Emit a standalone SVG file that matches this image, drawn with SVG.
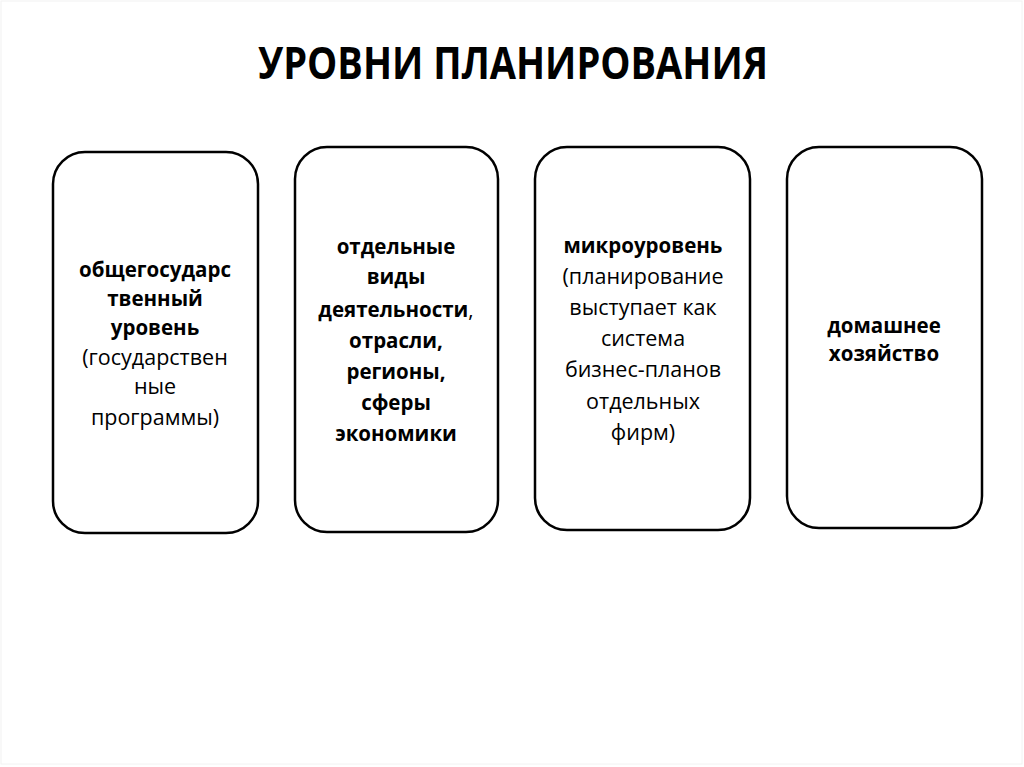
<svg xmlns="http://www.w3.org/2000/svg" width="1024" height="767" viewBox="0 0 1024 767">
<style>
.box{fill:#fff;stroke:#000;stroke-width:2.5}
.t{font-family:"Open Sans","Noto Sans",sans-serif;font-size:21.5px;fill:#000;text-anchor:middle}
.b{font-weight:bold;font-size:20.5px}
.title{font-family:"Open Sans","Noto Sans",sans-serif;font-size:44px;font-weight:bold;fill:#000;text-anchor:middle}
</style>
<rect x="0" y="0" width="1024" height="767" fill="#fff"/>
<rect x="1" y="1" width="1021" height="763" fill="none" stroke="#f2f2f2" stroke-width="1"/>
<text class="title" x="513" y="79" textLength="510" lengthAdjust="spacingAndGlyphs">УРОВНИ ПЛАНИРОВАНИЯ</text>
<g id="node1">
<rect class="box" x="53" y="152" width="205" height="381" rx="32"/>
<text class="t b" x="155" y="277">общегосударс</text>
<text class="t b" x="155" y="306">твенный</text>
<text class="t b" x="155" y="335">уровень</text>
<text class="t" x="155" y="365">(государствен</text>
<text class="t" x="155" y="394">ные</text>
<text class="t" x="155" y="425">программы)</text>
</g>
<g id="node2">
<rect class="box" x="295" y="147" width="203" height="385" rx="32"/>
<text class="t b" x="396" y="254">отдельные</text>
<text class="t b" x="396" y="284">виды</text>
<text class="t b" x="396" y="317">деятельности<tspan font-weight="normal">,</tspan></text>
<text class="t b" x="396" y="348">отрасли,</text>
<text class="t b" x="396" y="379">регионы,</text>
<text class="t b" x="396" y="410">сферы</text>
<text class="t b" x="396" y="441">экономики</text>
</g>
<g id="node3">
<rect class="box" x="535" y="147" width="215" height="383" rx="32"/>
<text class="t b" x="643" y="253">микроуровень</text>
<text class="t" x="643" y="284">(планирование</text>
<text class="t" x="643" y="315">выступает как</text>
<text class="t" x="643" y="346">система</text>
<text class="t" x="643" y="377">бизнес-планов</text>
<text class="t" x="643" y="409">отдельных</text>
<text class="t" x="643" y="440">фирм)</text>
</g>
<g id="node4">
<rect class="box" x="787" y="147" width="195" height="381" rx="32"/>
<text class="t b" x="884" y="333">домашнее</text>
<text class="t b" x="884" y="361">хозяйство</text>
</g>
<g id="connectors"></g>
</svg>
